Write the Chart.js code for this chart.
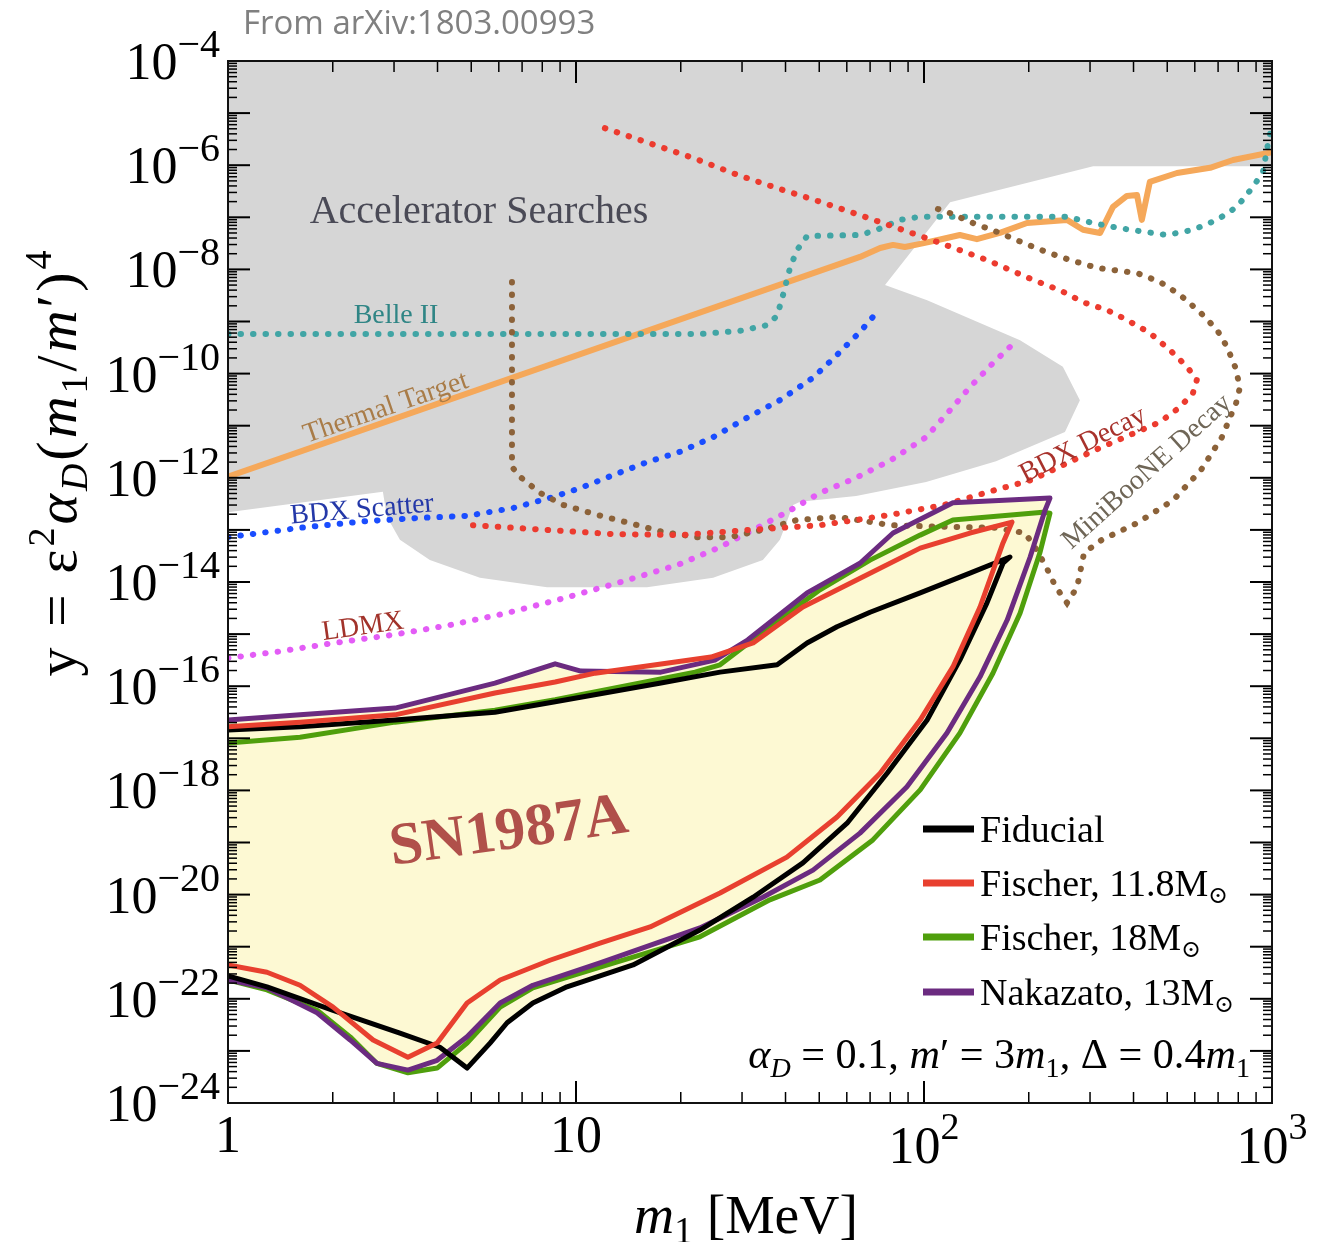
<!DOCTYPE html>
<html>
<head>
<meta charset="utf-8">
<script src="https://cdn.jsdelivr.net/npm/chart.js@4.4.1/dist/chart.umd.min.js"></script>
<style>
  html, body { margin: 0; padding: 0; background: #fff; }
  #box { width: 1329px; height: 1242px; }
</style>
</head>
<body>
<div id="box"><canvas id="chart" width="1329" height="1242"></canvas></div>
<script>
// all values as log10(m1 / MeV) and log10(y)
const grayLogX = [0, 3, 3, 2.486, 2.075, 1.888, 2.009, 2.276, 2.399, 2.448, 2.405, 2.207, 2.006, 1.805, 1.644, 1.624, 1.586, 1.537, 1.394, 1.204, 0.917, 0.724, 0.580, 0.494, 0.457, 0.445, 0];
const grayLogY = [-4, -4, -6.02, -6.02, -6.71, -8.30, -8.59, -9.36, -9.87, -10.51, -11.12, -11.68, -12.08, -12.35, -12.46, -12.52, -13.19, -13.58, -13.92, -14.10, -14.10, -13.92, -13.58, -13.19, -12.75, -12.27, -12.66];

const thermalLogX = [0, 1.816, 1.874, 1.911, 1.945, 1.989, 2.037, 2.103, 2.152, 2.218, 2.296, 2.411, 2.457, 2.506, 2.543, 2.583, 2.612, 2.626, 2.649, 2.727, 2.822, 2.888, 3.0];
const thermalLogY = [-11.98, -7.76, -7.59, -7.53, -7.57, -7.51, -7.44, -7.34, -7.42, -7.30, -7.11, -7.05, -7.24, -7.30, -6.80, -6.59, -6.57, -7.05, -6.32, -6.15, -6.05, -5.90, -5.75];

const belleLogX = [0, 1.356, 1.471, 1.549, 1.578, 1.595, 1.615, 1.635, 1.664, 1.816, 1.865, 1.931, 1.989, 2.218, 2.411, 2.486, 2.563, 2.698, 2.773, 2.842, 2.899, 2.945, 2.974, 2.989, 3.0];
const belleLogY = [-9.24, -9.24, -9.18, -9.07, -8.89, -8.49, -7.97, -7.63, -7.36, -7.34, -7.24, -7.05, -6.99, -6.99, -6.99, -7.11, -7.21, -7.34, -7.24, -7.05, -6.80, -6.42, -6.13, -5.57, -5.23];

const scatterLogX = [0, 0.207, 0.399, 0.552, 0.687, 0.819, 0.934, 1.011, 1.106, 1.204, 1.299, 1.394, 1.491, 1.586, 1.681, 1.744, 1.816, 1.865];
const scatterLogY = [-13.14, -12.96, -12.83, -12.77, -12.73, -12.58, -12.37, -12.20, -11.95, -11.70, -11.50, -11.22, -10.85, -10.51, -10.08, -9.68, -9.20, -8.82];

const ldmxLogX = [0, 0.141, 0.305, 0.468, 0.635, 0.799, 0.966, 1.129, 1.293, 1.414, 1.509, 1.606, 1.701, 1.805, 1.905, 2.006, 2.075, 2.132, 2.198, 2.267];
const ldmxLogY = [-15.46, -15.34, -15.17, -15.02, -14.83, -14.60, -14.31, -14.00, -13.67, -13.33, -13.00, -12.66, -12.29, -12.00, -11.66, -11.22, -10.70, -10.26, -9.80, -9.36];

const bdxDecayLogX = [1.083, 1.336, 1.466, 1.578, 1.687, 1.799, 1.908, 2.037, 2.103, 2.181, 2.247, 2.313, 2.391, 2.457, 2.526, 2.583, 2.649, 2.707, 2.756, 2.784, 2.773, 2.736, 2.678, 2.612, 2.511, 2.411, 2.310, 2.207, 2.058, 1.905, 1.701, 1.500, 1.299, 1.106, 0.917, 0.704];
const bdxDecayLogY = [-5.29, -5.86, -6.19, -6.44, -6.67, -6.92, -7.17, -7.47, -7.63, -7.82, -8.01, -8.20, -8.40, -8.63, -8.78, -8.97, -9.22, -9.55, -9.87, -10.12, -10.37, -10.64, -10.93, -11.12, -11.41, -11.72, -12.04, -12.23, -12.52, -12.71, -12.91, -13.00, -13.10, -13.08, -13.00, -12.91];

const booneLogX = [2.040, 2.075, 2.141, 2.218, 2.285, 2.353, 2.420, 2.497, 2.563, 2.612, 2.678, 2.736, 2.793, 2.842, 2.871, 2.894, 2.908, 2.897, 2.856, 2.796, 2.716, 2.612, 2.511, 2.460, 2.440, 2.411, 2.379, 2.351, 2.319, 2.290, 2.207, 2.058, 1.905, 1.753, 1.635, 1.537, 1.443, 1.348, 1.250, 1.155, 1.060, 0.963, 0.897, 0.839, 0.816, 0.816];
const booneLogY = [-6.84, -6.92, -7.11, -7.30, -7.49, -7.67, -7.82, -7.97, -8.03, -8.07, -8.24, -8.49, -8.82, -9.16, -9.49, -9.87, -10.26, -10.56, -11.22, -11.85, -12.43, -12.87, -13.19, -13.44, -14.10, -14.40, -14.10, -13.71, -13.33, -13.06, -12.96, -12.94, -12.91, -12.75, -12.81, -13.00, -13.14, -13.14, -13.04, -12.87, -12.71, -12.52, -12.29, -11.98, -11.79, -8.07];

// SN1987A contours: upper branch left->right, then lower branch back to m1 = 1
const fiducialLogX = [0, 0.207, 0.480, 0.767, 0.940, 1.244, 1.414, 1.578, 1.664, 1.750, 1.845, 1.989, 2.132, 2.247, 2.227, 2.181, 2.103, 2.009, 1.894, 1.779, 1.652, 1.509, 1.356, 1.164, 0.974, 0.876, 0.802, 0.753, 0.687, 0.609, 0.494, 0.302, 0.112, 0];
const fiducialLogY = [-16.84, -16.78, -16.65, -16.50, -16.30, -15.94, -15.73, -15.59, -15.17, -14.86, -14.58, -14.21, -13.83, -13.52, -13.64, -14.40, -15.50, -16.65, -17.67, -18.63, -19.39, -20.05, -20.68, -21.35, -21.77, -22.08, -22.46, -22.85, -23.33, -22.93, -22.66, -22.22, -21.77, -21.56];

const fischer118LogX = [0, 0.207, 0.480, 0.767, 0.940, 1.055, 1.388, 1.509, 1.652, 1.825, 1.989, 2.132, 2.253, 2.227, 2.161, 2.083, 1.989, 1.874, 1.750, 1.606, 1.414, 1.213, 1.069, 0.925, 0.782, 0.687, 0.601, 0.517, 0.417, 0.302, 0.207, 0.112, 0];
const fischer118LogY = [-16.78, -16.69, -16.55, -16.13, -15.92, -15.75, -15.44, -15.17, -14.48, -13.90, -13.35, -13.06, -12.85, -13.25, -14.48, -15.63, -16.65, -17.67, -18.51, -19.28, -19.97, -20.62, -20.93, -21.26, -21.64, -22.08, -22.85, -23.12, -22.79, -22.16, -21.74, -21.49, -21.35];

const fischer18LogX = [0, 0.207, 0.480, 0.767, 0.940, 1.342, 1.414, 1.557, 1.701, 1.845, 1.989, 2.083, 2.342, 2.362, 2.333, 2.276, 2.198, 2.103, 1.989, 1.853, 1.701, 1.557, 1.356, 1.069, 0.876, 0.782, 0.687, 0.601, 0.517, 0.428, 0.351, 0.256, 0.112, 0];
const fischer18LogY = [-17.09, -16.98, -16.69, -16.46, -16.26, -15.73, -15.59, -14.86, -14.15, -13.58, -13.10, -12.81, -12.66, -12.68, -13.44, -14.60, -15.75, -16.90, -17.99, -18.95, -19.72, -20.10, -20.81, -21.39, -21.79, -22.16, -22.85, -23.33, -23.42, -23.24, -22.73, -22.22, -21.83, -21.64];

const nakazatoLogX = [0, 0.207, 0.480, 0.767, 0.940, 1.014, 1.244, 1.399, 1.494, 1.664, 1.816, 1.911, 2.083, 2.362, 2.348, 2.305, 2.239, 2.161, 2.066, 1.951, 1.816, 1.681, 1.537, 1.356, 1.069, 0.876, 0.782, 0.687, 0.601, 0.517, 0.428, 0.351, 0.256, 0.112, 0];
const nakazatoLogY = [-16.65, -16.55, -16.42, -15.94, -15.57, -15.71, -15.73, -15.50, -15.11, -14.21, -13.64, -13.06, -12.48, -12.39, -12.62, -13.52, -14.73, -15.82, -16.90, -17.93, -18.82, -19.53, -20.05, -20.64, -21.31, -21.74, -22.08, -22.73, -23.18, -23.37, -23.24, -22.79, -22.27, -21.79, -21.64];

const legendLabels = ['Fiducial', 'Fischer, 11.8M', 'Fischer, 18M', 'Nakazato, 13M'];
const legendColors = ['#000000', '#e8402f', '#4f9f0c', '#6b2b80'];
const yTickExps = [-4, -6, -8, -10, -12, -14, -16, -18, -20, -22, -24];
const xTickExps = [0, 1, 2, 3];

const SERIF = "'Liberation Serif', 'DejaVu Serif', serif";
const SN_FILL = '#fdf9d3';

function pts(lx, ly) {
  return lx.map((v, i) => ({ x: Math.pow(10, v), y: Math.pow(10, ly[i]) }));
}

function dotted(label, lx, ly, color) {
  return {
    label: label, data: pts(lx, ly), borderColor: color, borderWidth: 6,
    borderDash: [0.5, 12], borderCapStyle: 'round', fill: false, pointRadius: 0, clip: 0
  };
}

function contour(label, lx, ly, color) {
  return {
    label: label, data: pts(lx, ly), borderColor: color, borderWidth: 5,
    backgroundColor: SN_FILL, fill: 'shape', borderJoinStyle: 'round', pointRadius: 0, clip: 0
  };
}

// datasets earlier in the list are drawn on top
const datasets = [
  contour('Fischer, 11.8', fischer118LogX, fischer118LogY, legendColors[1]),
  contour('Fiducial', fiducialLogX, fiducialLogY, legendColors[0]),
  contour('Nakazato, 13', nakazatoLogX, nakazatoLogY, legendColors[3]),
  contour('Fischer, 18', fischer18LogX, fischer18LogY, legendColors[2]),
  dotted('BDX Decay', bdxDecayLogX, bdxDecayLogY, '#ec3b2f'),
  dotted('MiniBooNE Decay', booneLogX, booneLogY, '#8c6239'),
  dotted('LDMX', ldmxLogX, ldmxLogY, '#e35cf6'),
  dotted('BDX Scatter', scatterLogX, scatterLogY, '#1a4dff'),
  dotted('Belle II', belleLogX, belleLogY, '#41a5a5'),
  {
    label: 'Thermal Target', data: pts(thermalLogX, thermalLogY), borderColor: '#f5a85a',
    borderWidth: 6, borderJoinStyle: 'round', fill: false, pointRadius: 0, clip: 0
  },
  {
    label: 'Accelerator Searches', data: pts(grayLogX, grayLogY), borderWidth: 0,
    borderColor: 'rgba(0,0,0,0)', backgroundColor: '#d6d6d6', fill: 'shape', pointRadius: 0, clip: 0
  }
];

function richWidth(ctx, parts, s) {
  let w = 0;
  parts.forEach(p => {
    ctx.font = (p[2] || '') + ' ' + (p[1] * s) + 'px ' + SERIF;
    w += ctx.measureText(p[0]).width;
  });
  return w;
}

function drawRich(ctx, parts, x, y, align, s) {
  s = s || 1;
  const w = richWidth(ctx, parts, s);
  let cx = align === 'right' ? x - w : align === 'center' ? x - w / 2 : x;
  ctx.textAlign = 'left';
  ctx.textBaseline = 'alphabetic';
  parts.forEach(p => {
    ctx.font = (p[2] || '') + ' ' + (p[1] * s) + 'px ' + SERIF;
    ctx.fillText(p[0], cx, y + (p[3] || 0) * s);
    cx += ctx.measureText(p[0]).width;
  });
}

function label(ctx, text, size, style, color, x, y, deg) {
  ctx.save();
  ctx.translate(x, y);
  ctx.rotate(deg * Math.PI / 180);
  ctx.font = style + ' ' + size + 'px ' + SERIF;
  ctx.fillStyle = color;
  ctx.textAlign = 'center';
  ctx.textBaseline = 'middle';
  ctx.fillText(text, 0, 0);
  ctx.restore();
}

const decor = {
  id: 'decor',
  afterDatasetsDraw(chart) {
    const ctx = chart.ctx;
    label(ctx, 'Accelerator Searches', 40, '', '#4a4a56', 479, 212, 0);
    label(ctx, 'Belle II', 28, '', '#2f8585', 396, 316, 0);
    label(ctx, 'Thermal Target', 28, '', '#a97c48', 386, 408, -19);
    label(ctx, 'BDX Scatter', 28, '', '#2438a8', 362, 510, -5);
    label(ctx, 'LDMX', 28, '', '#a2332b', 363, 627, -8);
    label(ctx, 'BDX Decay', 28, '', '#a8322c', 1083, 445, -27);
    label(ctx, 'MiniBooNE Decay', 28, '', '#6f6657', 1147, 472, -42);
    label(ctx, 'SN1987A', 60, 'bold', '#b0504a', 509, 833, -8);
  },
  afterDraw(chart) {
    const ctx = chart.ctx;
    const xs = chart.scales.x, ys = chart.scales.y;
    const a = chart.chartArea;
    ctx.save();

    // ticks on all four sides, pointing inwards
    ctx.strokeStyle = '#000';
    const seg = (x1, y1, x2, y2, w) => {
      ctx.lineWidth = w;
      ctx.beginPath(); ctx.moveTo(x1, y1); ctx.lineTo(x2, y2); ctx.stroke();
    };
    for (let k = -24; k <= -4; k++) {
      for (let m = 1; m <= 9; m++) {
        if (k === -4 && m > 1) break;
        const py = ys.getPixelForValue(m * Math.pow(10, k));
        const len = m === 1 ? 22 : 9;
        const w = m === 1 ? 2 : 1.5;
        seg(a.left, py, a.left + len, py, w);
        seg(a.right, py, a.right - len, py, w);
      }
    }
    for (let k = 0; k <= 3; k++) {
      for (let m = 1; m <= 9; m++) {
        if (k === 3 && m > 1) break;
        const px = xs.getPixelForValue(m * Math.pow(10, k));
        const len = m === 1 ? 22 : 11;
        const w = m === 1 ? 2 : 1.5;
        seg(px, a.bottom, px, a.bottom - len, w);
        seg(px, a.top, px, a.top + len, w);
      }
    }
    ctx.lineWidth = 2;
    ctx.strokeStyle = '#111';
    ctx.strokeRect(a.left, a.top, a.right - a.left, a.bottom - a.top);

    // tick labels
    ctx.fillStyle = '#000';
    yTickExps.forEach(k => {
      const py = ys.getPixelForValue(Math.pow(10, k));
      drawRich(ctx, [['10', 52], ['\u2212' + (-k), 40, '', -22]], 220, py + 18, 'right');
    });
    xTickExps.forEach(k => {
      const px = xs.getPixelForValue(Math.pow(10, k));
      if (k === 0) drawRich(ctx, [['1', 52]], px, 1152, 'center');
      else if (k === 1) drawRich(ctx, [['10', 52]], px, 1152, 'center');
      else drawRich(ctx, [['10', 52], [String(k), 38, '', -24]], px, 1163, 'center');
    });

    // axis titles
    const xTitle = [['m', 54, 'italic'], ['1', 36, '', 10], [' [MeV]', 54]];
    drawRich(ctx, xTitle, 746, 1233, 'center', 224 / richWidth(ctx, xTitle, 1));

    const yTitle = [['y = \u03b5', 58], ['2', 38, '', -22], ['\u03b1', 58, 'italic'], ['D', 38, 'italic', 11],
      ['(', 58], ['m', 58, 'italic'], ['1', 38, '', 11], ['/', 58], ['m', 58, 'italic'], ['\u2032', 58], [')', 58], ['4', 38, '', -25]];
    ctx.save();
    ctx.translate(76, 462);
    ctx.rotate(-Math.PI / 2);
    ctx.letterSpacing = '3px';
    drawRich(ctx, yTitle, 0, 0, 'center', 1);
    ctx.letterSpacing = '0px';
    ctx.restore();

    // legend
    const legendY = [829, 883, 937, 992];
    legendLabels.forEach((t, i) => {
      ctx.strokeStyle = legendColors[i];
      seg(923, legendY[i], 974, legendY[i], 7);
      const parts = [[t, 38]];
      if (i > 0) parts.push(['\u2299', 24, '', 7]);
      drawRich(ctx, parts, 980, legendY[i] + 13, 'left');
    });

    const param = [['\u03b1', 36, 'italic'], ['D', 24, 'italic', 8], [' = 0.1, ', 36], ['m', 36, 'italic'], ['\u2032 = 3', 36],
      ['m', 36, 'italic'], ['1', 24, '', 8], [', \u0394 = 0.4', 36], ['m', 36, 'italic'], ['1', 24, '', 8]];
    drawRich(ctx, param, 1250, 1068, 'right', 502 / richWidth(ctx, param, 1));

    // source note
    ctx.fillStyle = '#808080';
    ctx.font = "33px 'Open Sans', 'Noto Sans', sans-serif";
    const tw = ctx.measureText('From arXiv:1803.00993').width;
    const fs = Math.min(33, 33 * 374 / tw);
    ctx.font = fs + "px 'Open Sans', 'Noto Sans', sans-serif";
    ctx.textAlign = 'left';
    ctx.textBaseline = 'alphabetic';
    ctx.fillText('From arXiv:1803.00993', 243, 34);
    ctx.restore();
  }
};

new Chart(document.getElementById('chart'), {
  type: 'line',
  data: { datasets: datasets },
  options: {
    responsive: false,
    animation: false,
    devicePixelRatio: 1,
    layout: { padding: { left: 228, right: 57, top: 61, bottom: 139 } },
    scales: {
      x: { type: 'logarithmic', min: 1, max: 1000, display: false },
      y: { type: 'logarithmic', min: 1e-24, max: 1e-4, display: false }
    },
    plugins: {
      legend: { display: false },
      tooltip: { enabled: false },
      filler: { drawTime: 'beforeDatasetsDraw' }
    },
    elements: { line: { tension: 0 } }
  },
  plugins: [decor]
});
</script>
</body>
</html>
